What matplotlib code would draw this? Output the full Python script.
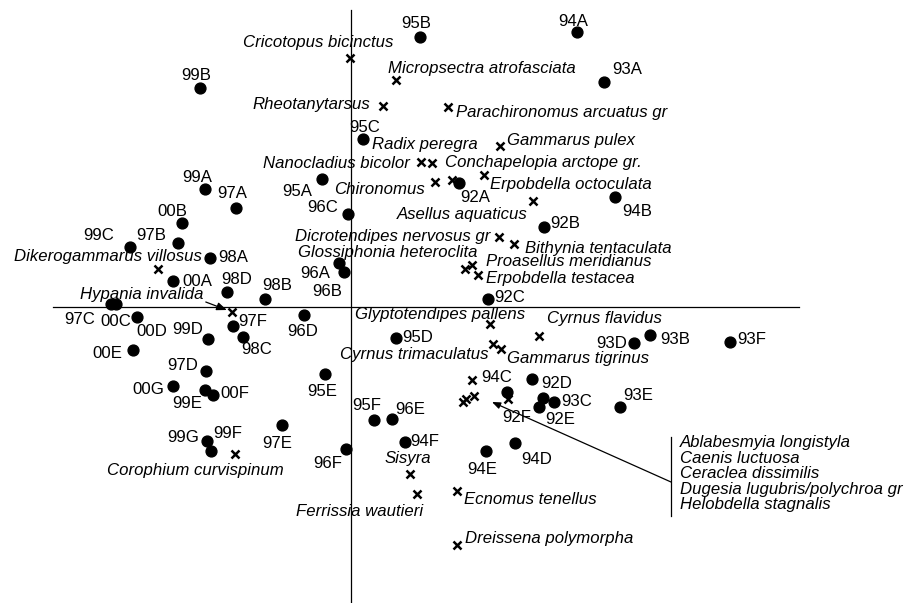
import matplotlib
matplotlib.use("Agg")
import matplotlib.pyplot as plt

plt.rcParams['font.family'] = ['Liberation Sans', 'DejaVu Sans']
fontsize = 12.1

# site scores (axis 1, axis 2)
site_names = ["92A", "92B", "92C", "92D", "92E", "92F",
              "93A", "93B", "93C", "93D", "93E", "93F",
              "94A", "94B", "94C", "94D", "94E", "94F",
              "95A", "95B", "95C", "95D", "95E", "95F",
              "96A", "96B", "96C", "96D", "96E", "96F",
              "97A", "97B", "97C", "97D", "97E", "97F",
              "98A", "98B", "98C", "98D",
              "99A", "99B", "99C", "99D", "99E", "99F", "99G",
              "00A", "00B", "00C", "00D", "00E", "00F", "00G"]
site_ax1 = [1.08, 1.93, 1.37, 1.81, 1.88, 1.92,
            2.53, 2.99, 2.03, 2.83, 2.69, 3.79,
            2.26, 2.64, 1.56, 1.64, 1.35, 0.54,
            -0.29, 0.69, 0.12, 0.45, -0.26, 0.23,
            -0.12, -0.07, -0.03, -0.47, 0.41, -0.05,
            -1.15, -1.73, -2.40, -1.45, -0.69, -1.18,
            -1.41, -0.86, -1.08, -1.24,
            -1.46, -1.51, -2.21, -1.43, -1.46, -1.40, -1.44,
            -1.78, -1.69, -2.35, -2.14, -2.18, -1.38, -1.78]
site_ax2 = [1.24, 0.80, 0.08, -0.72, -1.00, -0.91,
            2.25, -0.28, -0.95, -0.36, -1.00, -0.35,
            2.75, 1.10, -0.85, -1.36, -1.44, -1.35,
            1.28, 2.70, 1.68, -0.31, -0.67, -1.13,
            0.44, 0.35, 0.93, -0.08, -1.12, -1.42,
            0.99, 0.64, 0.03, -0.64, -1.18, -0.19,
            0.49, 0.08, -0.30, 0.15,
            1.18, 2.19, 0.60, -0.32, -0.83, -1.44, -1.34,
            0.26, 0.84, 0.03, -0.10, -0.43, -0.88, -0.79]

# species scores
species_names = ["Cricotopus bicinctus", "Micropsectra atrofasciata", "Rheotanytarsus",
                 "Parachironomus arcuatus gr", "Gammarus pulex", "Radix peregra",
                 "Nanocladius bicolor", "Conchapelopia arctope gr.", "Chironomus",
                 "Erpobdella octoculata", "Asellus aquaticus", "Dicrotendipes nervosus gr",
                 "Bithynia tentaculata", "Glossiphonia heteroclita", "Proasellus meridianus",
                 "Erpobdella testacea", "Dikerogammarus villosus", "Hypania invalida",
                 "Glyptotendipes pallens", "Cyrnus flavidus", "Cyrnus trimaculatus",
                 "Gammarus tigrinus", "Corophium curvispinum", "Sisyra",
                 "Ferrissia wautieri", "Ecnomus tenellus", "Dreissena polymorpha"]
species_ax1 = [-0.01, 0.45, 0.32, 0.97, 1.49, 0.81, 0.70, 1.01, 0.84, 1.33, 1.82, 1.48,
               1.63, 1.14, 1.21, 1.27, -1.93, -1.19, 1.39, 1.88, 1.42, 1.50, -1.16,
               0.59, 0.66, 1.06, 1.06]
species_ax2 = [2.49, 2.27, 2.01, 2.00, 1.61, 1.44, 1.45, 1.27, 1.25, 1.32, 1.06, 0.70,
               0.63, 0.38, 0.42, 0.32, 0.38, -0.05, -0.17, -0.29, -0.37, -0.42, -1.47,
               -1.67, -1.87, -1.84, -2.38]

# species sharing nearly the same position, labelled as a list
group_names = ["Ablabesmyia longistyla", "Caenis luctuosa", "Ceraclea dissimilis",
               "Dugesia lugubris/polychroa gr", "Helobdella stagnalis"]
group_ax1 = [1.12, 1.15, 1.23, 1.21, 1.57]
group_ax2 = [-0.95, -0.92, -0.89, -0.73, -0.92]

# label placement: offset in pixels from the point, horizontal alignment
site_offsets = {
    "92A": (16, -15), "92B": (21, 4), "92C": (22, 1), "92D": (25, -4), "92E": (21, -13),
    "92F": (-26, -19), "93A": (23, 12), "93B": (25, -4), "93C": (23, 0), "93D": (-22, 0),
    "93E": (18, 11), "93F": (22, 3), "94A": (-4, 11), "94B": (22, -15), "94C": (-10, 15),
    "94D": (22, -16), "94E": (-4, -18), "94F": (20, 1), "95A": (-25, -13), "95B": (-4, 13),
    "95C": (2, 11), "95D": (22, 1), "95E": (-3, -18), "95F": (-7, 14), "96A": (-24, -10),
    "96B": (-17, -19), "96C": (-25, 6), "96D": (-1, -17), "96E": (18, 10), "96F": (-18, -15),
    "97A": (-4, 14), "97B": (-27, 7), "97C": (-31, -15), "97D": (-23, 5), "97E": (-5, -18),
    "97F": (20, 4), "98A": (23, 1), "98B": (12, 13), "98C": (14, -13), "98D": (10, 13),
    "99A": (-8, 12), "99B": (-4, 12), "99C": (-31, 11), "99D": (-20, 10), "99E": (-18, -13),
    "99F": (17, 17), "99G": (-24, 3), "00A": (24, 0), "00B": (-10, 11), "00C": (0, -18),
    "00D": (15, -15), "00E": (-26, -3), "00F": (22, 2), "00G": (-25, -4),
}
species_offsets = {
    "Cricotopus bicinctus": (-32, 15, "center"),
    "Micropsectra atrofasciata": (-8, 12, "left"),
    "Rheotanytarsus": (-13, 1, "right"),
    "Parachironomus arcuatus gr": (8, -5, "left"),
    "Gammarus pulex": (7, 6, "left"),
    "Radix peregra": (-7, 18, "center"),
    "Nanocladius bicolor": (-11, -1, "right"),
    "Conchapelopia arctope gr.": (-7, 17, "left"),
    "Chironomus": (-10, -7, "right"),
    "Erpobdella octoculata": (6, -10, "left"),
    "Asellus aquaticus": (-5, -14, "right"),
    "Dicrotendipes nervosus gr": (-9, 0, "right"),
    "Bithynia tentaculata": (11, -4, "left"),
    "Glossiphonia heteroclita": (13, 17, "right"),
    "Proasellus meridianus": (14, 3, "left"),
    "Erpobdella testacea": (8, -4, "left"),
    "Dikerogammarus villosus": (44, 12, "right"),
    "Hypania invalida": (-29, 18, "right"),
    "Glyptotendipes pallens": (-50, 10, "center"),
    "Cyrnus flavidus": (8, 17, "left"),
    "Cyrnus trimaculatus": (-5, -11, "right"),
    "Gammarus tigrinus": (6, -9, "left"),
    "Corophium curvispinum": (-40, -16, "center"),
    "Sisyra": (-2, 15, "center"),
    "Ferrissia wautieri": (6, -18, "right"),
    "Ecnomus tenellus": (7, -9, "left"),
    "Dreissena polymorpha": (8, 7, "left"),
}

fig = plt.figure(figsize=(9.16, 6.03), dpi=100)
ax = fig.add_axes([0, 0, 1, 1])
ax.set_xlim(-3.51, 5.65)
ax.set_ylim(-2.96, 3.07)
ax.axis('off')

# ordination axes
ax.plot([0, 0], [-2.96, 2.97], color='black', lw=0.9)
ax.plot([-2.98, 4.48], [0, 0], color='black', lw=0.9)

ax.plot(site_ax1, site_ax2, 'o', color='black', markersize=7.8, zorder=3)
ax.plot(species_ax1 + group_ax1, species_ax2 + group_ax2, 'x', color='black',
        markersize=6, mew=1.8, zorder=3)

for name, x, y in zip(site_names, site_ax1, site_ax2):
    dx, dy = site_offsets[name]
    ax.annotate(name, (x, y), xytext=(dx, dy), textcoords='offset pixels',
                ha='center', va='center', fontsize=fontsize)

for name, x, y in zip(species_names, species_ax1, species_ax2):
    dx, dy, ha = species_offsets[name]
    if name == "Hypania invalida":
        ax.annotate(name, (x, y), xytext=(dx, dy), textcoords='offset pixels',
                    ha=ha, va='center', fontsize=fontsize, style='italic',
                    arrowprops=dict(arrowstyle='-|>,head_length=0.5,head_width=0.2',
                                    color='black', lw=0.9, relpos=(0.98, 0.1),
                                    shrinkA=0, shrinkB=4))
    else:
        ax.annotate(name, (x, y), xytext=(dx, dy), textcoords='offset pixels',
                    ha=ha, va='center', fontsize=fontsize, style='italic')

# list of the grouped species with bracket and arrow
list_x = 3.29
list_top = -1.36
list_step = 0.155
for i, name in enumerate(group_names):
    ax.text(list_x, list_top - i * list_step, name, ha='left', va='center',
            fontsize=fontsize, style='italic')
ax.plot([3.20, 3.20], [-1.30, -2.09], color='black', lw=0.9)
ax.annotate('', xy=(1.41, -0.95), xytext=(3.20, -1.75),
            arrowprops=dict(arrowstyle='-|>,head_length=0.5,head_width=0.2',
                            color='black', lw=0.9, shrinkA=0, shrinkB=0))

plt.savefig("out.png", dpi=100)
plt.close()
